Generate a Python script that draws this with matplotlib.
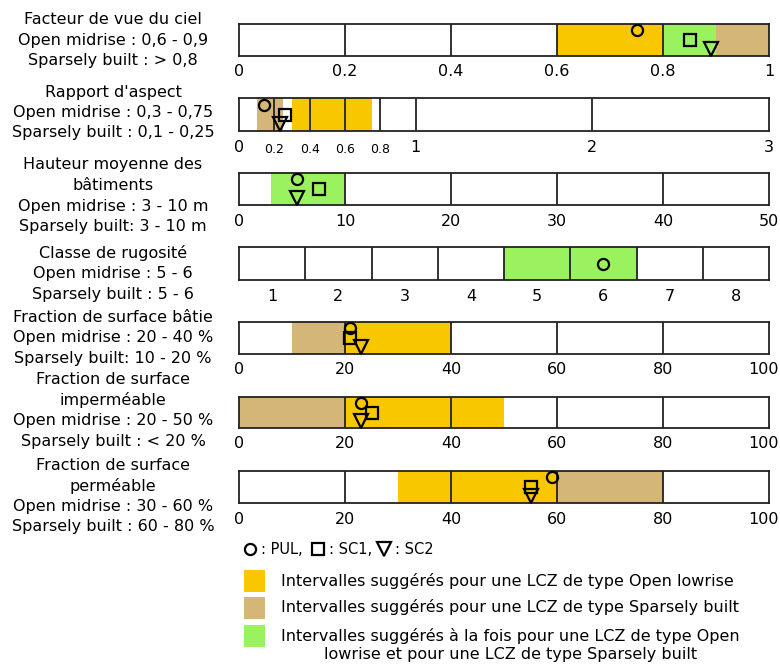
import matplotlib
matplotlib.use('Agg')
import matplotlib.pyplot as plt
from matplotlib.transforms import offset_copy

# figure size in pixels (dpi 100)
W, H = 780, 666

# ---------------- data ----------------
param_titles = [
    ['Facteur de vue du ciel', 'Open midrise : 0,6 - 0,9', 'Sparsely built : > 0,8'],
    ["Rapport d'aspect", 'Open midrise : 0,3 - 0,75', 'Sparsely built : 0,1 - 0,25'],
    ['Hauteur moyenne des', 'bâtiments', 'Open midrise : 3 - 10 m', 'Sparsely built: 3 - 10 m'],
    ['Classe de rugosité', 'Open midrise : 5 - 6', 'Sparsely built : 5 - 6'],
    ['Fraction de surface bâtie', 'Open midrise : 20 - 40 %', 'Sparsely built: 10 - 20 %'],
    ['Fraction de surface', 'imperméable', 'Open midrise : 20 - 50 %', 'Sparsely built : < 20 %'],
    ['Fraction de surface', 'perméable', 'Open midrise : 30 - 60 %', 'Sparsely built : 60 - 80 %'],
]

x_limits = [(0, 1), (0, 3), (0, 50), (0.5, 8.5), (0, 100), (0, 100), (0, 100)]

open_ranges = [(0.6, 0.9), (0.3, 0.75), (3, 10), (4.5, 6.5), (20, 40), (20, 50), (30, 60)]
sparse_ranges = [(0.8, 1.0), (0.1, 0.25), (3, 10), (4.5, 6.5), (10, 20), (0, 20), (60, 80)]

dividers = [
    [0.2, 0.4, 0.6, 0.8],
    [0.2, 0.4, 0.6, 0.8, 1, 2],
    [10, 20, 30, 40],
    [1.5, 2.5, 3.5, 4.5, 5.5, 6.5, 7.5],
    [20, 40, 60, 80],
    [20, 40, 60, 80],
    [20, 40, 60, 80],
]

tick_values = [
    [0, 0.2, 0.4, 0.6, 0.8, 1],
    [0, 1, 2, 3],
    [0, 10, 20, 30, 40, 50],
    [1, 2, 3, 4, 5, 6, 7, 8],
    [0, 20, 40, 60, 80, 100],
    [0, 20, 40, 60, 80, 100],
    [0, 20, 40, 60, 80, 100],
]
tick_labels = [
    ['0', '0.2', '0.4', '0.6', '0.8', '1'],
    ['0', '1', '2', '3'],
    ['0', '10', '20', '30', '40', '50'],
    ['1', '2', '3', '4', '5', '6', '7', '8'],
    ['0', '20', '40', '60', '80', '100'],
    ['0', '20', '40', '60', '80', '100'],
    ['0', '20', '40', '60', '80', '100'],
]
# small tick labels of the aspect ratio row
small_ticks = [0.2, 0.4, 0.6, 0.8]
small_labels = ['0.2', '0.4', '0.6', '0.8']

pul = [0.75, 0.14, 5.5, 6, 21, 23, 59]
sc1 = [0.85, 0.26, 7.5, None, 21, 25, 55]
sc2 = [0.89, 0.23, 5.5, None, 23, 23, 55]

site_labels = [': PUL,', ': SC1,', ': SC2']
legend_labels = [
    'Intervalles suggérés pour une LCZ de type Open lowrise',
    'Intervalles suggérés pour une LCZ de type Sparsely built',
    'Intervalles suggérés à la fois pour une LCZ de type Open\nlowrise et pour une LCZ de type Sparsely built',
]

# ---------------- style / layout ----------------
YELLOW = '#f8c700'
TAN = '#d5b679'
GREEN = '#9af25e'
EDGE = '#222222'

bar_x0, bar_x1 = 239, 769
bar_rows = [(24, 56), (98, 131), (173, 205), (247, 280), (322, 354), (397, 428), (471, 503)]
title_tops = [20, 92, 165, 253, 317, 380, 465]
line_pitch = 20.5
FS = 11.5

fig = plt.figure(figsize=(W / 100, H / 100), dpi=100)

# overlay axes in pixel coordinates for the free text
tx = fig.add_axes([0, 0, 1, 1])
tx.set_xlim(0, W)
tx.set_ylim(H, 0)
tx.axis('off')

for i, lines in enumerate(param_titles):
    for j, line in enumerate(lines):
        tx.text(113, title_tops[i] + j * line_pitch, line, ha='center', va='center',
                fontsize=FS)

for i in range(len(param_titles)):
    top, bot = bar_rows[i]
    ax = fig.add_axes([bar_x0 / W, 1 - bot / H, (bar_x1 - bar_x0) / W, (bot - top) / H])
    ax.set_xlim(*x_limits[i])
    ax.set_ylim(0, 1)

    o0, o1 = open_ranges[i]
    s0, s1 = sparse_ranges[i]
    ax.axvspan(o0, o1, color=YELLOW, lw=0)
    ax.axvspan(s0, s1, color=TAN, lw=0)
    lo, hi = max(o0, s0), min(o1, s1)
    if hi > lo:
        ax.axvspan(lo, hi, color=GREEN, lw=0)

    for d in dividers[i]:
        ax.axvline(d, color=EDGE, lw=1.3)

    for sp in ax.spines.values():
        sp.set_color(EDGE)
        sp.set_linewidth(1.3)

    ax.set_xticks([])
    ax.set_yticks([])

    # tick labels as plain texts, the '100' nudged left so it stays inside the figure
    trans = ax.get_xaxis_transform()
    for v, lab in zip(tick_values[i], tick_labels[i]):
        t = trans
        if lab == '100':
            t = offset_copy(trans, fig=fig, x=-5, y=0, units='dots')
        ax.text(v, -0.5, lab, ha='center', va='center', fontsize=FS, transform=t)

    if i == 1:
        for v, lab in zip(small_ticks, small_labels):
            ax.text(v, -0.55, lab, ha='center', va='center', fontsize=9, transform=trans)

    mk = dict(mfc='none', mec='black', mew=1.6, clip_on=False, zorder=5)
    y_pul = 0.8 if sc1[i] is not None else 0.5
    ax.plot([pul[i]], [y_pul], 'o', ms=8, **mk)
    if sc1[i] is not None:
        ax.plot([sc1[i]], [0.5], 's', ms=8, **mk)
    if sc2[i] is not None:
        ax.plot([sc2[i]], [0.22], 'v', ms=10, **mk)

# ---------------- legend ----------------
mk = dict(mfc='none', mec='black', mew=1.6)
ly = 549
for (mx, marker, ms), lab in zip([(250, 'o', 8), (318, 's', 8), (384, 'v', 10)], site_labels):
    tx.plot([mx], [ly], marker, ms=ms, **mk)
    tx.text(mx + 11, ly, lab, va='center', fontsize=10.5)

swatch_tops = [570, 597, 625]
for c, top in zip([YELLOW, TAN, GREEN], swatch_tops):
    tx.add_patch(plt.Rectangle((244, top), 21, 22, color=c, lw=0))

tx.text(281, 581, legend_labels[0], va='center', fontsize=FS)
tx.text(281, 607, legend_labels[1], va='center', fontsize=FS)
tx.text(281, 645, legend_labels[2], va='center', ha='left', multialignment='center',
        fontsize=FS, linespacing=1.3)

fig.savefig('out.png', dpi=100)
